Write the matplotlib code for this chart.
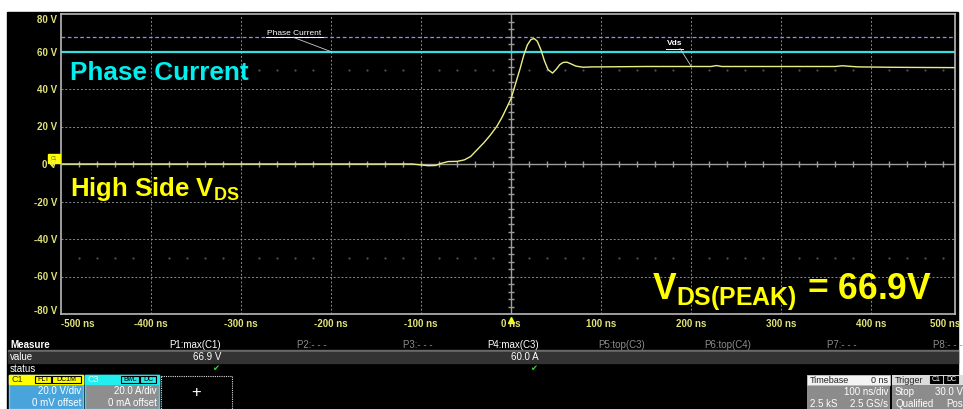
import matplotlib
matplotlib.use("Agg")
import matplotlib.pyplot as plt
from matplotlib.patches import Rectangle
import numpy as np

plt.rcParams['font.family'] = ['Liberation Sans', 'DejaVu Sans']
plt.rcParams['mathtext.fontset'] = 'custom'
plt.rcParams['mathtext.rm'] = 'Liberation Sans'
plt.rcParams['mathtext.bf'] = 'Liberation Sans:bold'

# ---- data ----
t_ns = [-500, -110, -100, -92, -84, -78, -70, -60, -52, -45, -38, -30, -23, -16,
        -10, -5, 0, 5, 10, 14, 18, 22, 25.6, 29, 33, 37, 41, 46, 50, 54, 58, 62,
        66, 72, 80, 90, 100, 150, 200, 222, 228, 234, 240, 300, 360, 368, 376,
        385, 420, 450, 493]
vds_v = [0, 0, -0.5, -0.9, -0.8, 0.3, 1.3, 1.4, 2.2, 4.0, 7.5, 11.5, 15.5, 20,
         25, 30, 35, 43, 51, 58, 63.5, 66.4, 66.9, 65.5, 61, 55, 50.3, 48.5, 50.5,
         53, 54.2, 54.3, 53.5, 52.2, 51.6, 51.8, 51.8, 52, 52, 52, 52.5, 52, 52,
         52, 52, 52.4, 52.1, 51.8, 51.6, 51.5, 51.4]
phase_current_a = 60.0
vds_peak = 66.9

xticks = [-500, -400, -300, -200, -100, 0, 100, 200, 300, 400, 500]
yticks = [80, 60, 40, 20, 0, -20, -40, -60, -80]

measure_names = ["P1:max(C1)", "P2:- - -", "P3:- - -", "P4:max(C3)",
                 "P5:top(C3)", "P6:top(C4)", "P7:- - -", "P8:- - -"]
measure_values = ["66.9 V", "", "", "60.0 A", "", "", "", ""]
measure_active = [True, False, False, True, False, False, False, False]

W, H = 963, 409
fig = plt.figure(figsize=(W / 100, H / 100), dpi=100, facecolor='white')

# black screen behind everything
back = fig.add_axes([0, 0, 1, 1])
back.set_xlim(0, W)
back.set_ylim(H, 0)
back.axis('off')
back.add_patch(Rectangle((7, 12), 951, 397, color='black'))

# ---- waveform grid ----
x0, x1, y0, y1 = 61, 955, 14, 314
ax = fig.add_axes([x0 / W, (H - y1) / H, (x1 - x0) / W, (y1 - y0) / H])
ax.set_facecolor('black')
ax.set_xlim(-500, 493)
ax.set_ylim(-80, 80)
ax.set_xticks([])
ax.set_yticks([])
for s in ax.spines.values():
    s.set_color('#b8b8b8')
    s.set_linewidth(1.2)

grid_kw = dict(color='#8a8a8a', lw=0.7, ls=(0, (2, 2)))
for v in range(-60, 80, 20):
    if v != 0:
        ax.axhline(v, **grid_kw)
for t in range(-400, 500, 100):
    if t != 0:
        ax.axvline(t, **grid_kw)
ax.axhline(0, color='#9c9c9c', lw=1.0)
ax.axvline(0, color='#9c9c9c', lw=1.0)
mt = np.arange(-480, 493, 20)
ax.plot(mt, np.zeros_like(mt), ls='none', marker='|', ms=4, color='#9c9c9c', mew=1)
mv = np.arange(-76, 80, 4)
ax.plot(np.zeros_like(mv), mv, ls='none', marker='_', ms=4, color='#9c9c9c', mew=1)
dots = mt[mt % 100 != 0]
for v in (50, -50):
    ax.plot(dots, np.full_like(dots, v), ls='none', marker='.', ms=0.8,
            color='#777777')

# ---- traces ----
ax.axhline(vds_peak + 0.6, color='#8c8cff', lw=0.9, ls=(0, (3, 2)))
ax.axhline(phase_current_a, color='#35e0e0', lw=1.6)
ax.plot(t_ns, vds_v, color='#eeee88', lw=1.0)

# overlay canvas in pixel coordinates for text and chrome
bg = fig.add_axes([0, 0, 1, 1])
bg.set_xlim(0, W)
bg.set_ylim(H, 0)
bg.axis('off')
bg.patch.set_alpha(0)

# small trace labels with leaders
bg.text(267, 33.5, "Phase Current", color='white', fontsize=6, va='center')
bg.plot([266, 323], [37.2, 37.2], color='white', lw=0.7)
bg.plot([293, 332], [37.2, 52], color='#cccccc', lw=0.6)
bg.text(667, 43.5, "Vds", color='white', fontsize=6, fontweight='bold', va='center')
bg.plot([666, 683], [48.5, 48.5], color='white', lw=0.7)
bg.plot([680, 691], [48.5, 66], color='#cccccc', lw=0.6)

# big overlay labels
bg.text(70, 73, "Phase Current", color='#00f0f0', fontsize=18.8,
        fontweight='bold', va='center')
bg.text(70, 189, r"High Side V$_{\mathbf{DS}}$", color='#ffff00', fontsize=18.5,
        fontweight='bold', va='center')
bg.text(652, 292, r"V$_{\mathbf{DS(PEAK)}}$ = 66.9V", color='#ffff00',
        fontsize=25.6, fontweight='bold', va='center')

# axis labels
lab_c = '#e2e27a'
for v in yticks:
    y = y0 + (80 - v) / 160 * (y1 - y0)
    y = min(max(y, 19), 310)
    bg.text(57, y + 1, f"{v} V", color=lab_c, fontsize=7, fontweight='bold',
            ha='right', va='center')
for t in xticks:
    x = x0 + (t + 500) * 0.9
    ha = 'center'
    if t == -500:
        ha = 'left'
    if t == 500:
        ha, x = 'right', 960
    bg.text(x, 324, f"{t} ns", color=lab_c, fontsize=7, fontweight='bold',
            ha=ha, va='center')
bg.plot([511], [319.5], marker='^', ms=4, color='#ffff00', ls='none')

# C1 ground marker
bg.add_patch(Rectangle((48, 154), 12, 9, color='#ffff00'))
bg.plot([50, 52, 54], [163, 166, 163], color='#ffff00', lw=1)
bg.text(54, 158.5, "C1", color='#555500', fontsize=3.5, ha='center', va='center')

# ---- measure table ----
bg.text(10, 345, "Measure", color='white', fontsize=7, fontweight='bold', va='center')
bg.add_patch(Rectangle((8, 350), 950, 2, color='#6a6a6a'))
bg.add_patch(Rectangle((8, 352), 950, 11, color='#333333'))
bg.text(10, 357.5, "value", color='white', fontsize=7, va='center')
bg.text(10, 368.5, "status", color='white', fontsize=7, va='center')
col_right = [221, 327, 433, 539, 645, 751, 857, 963]
for i, name in enumerate(measure_names):
    c = 'white' if measure_active[i] else '#8c8c8c'
    bg.text(col_right[i], 345, name, color=c, fontsize=7, ha='right', va='center')
    if measure_values[i]:
        bg.text(col_right[i], 357.5, measure_values[i], color='white', fontsize=7,
                ha='right', va='center')
        bg.text(col_right[i] - 5, 368.5, "\u2714", color='#33dd33', fontsize=6,
                ha='center', va='center', family='DejaVu Sans')

# ---- channel boxes ----
def tag(x, y, s, fc='none', ec='black', tc='black', w=None):
    w = w or len(s) * 4.3 + 3
    bg.add_patch(Rectangle((x, y), w, 7, fc=fc, ec=ec, lw=0.8))
    bg.text(x + w / 2, y + 3.7, s, color=tc, fontsize=5, ha='center', va='center')

bg.add_patch(Rectangle((9, 375), 74, 34, fc='#4aa4dc', ec='#6cc4f4', lw=1))
bg.add_patch(Rectangle((9, 375), 74, 9, color='#ffff00'))
bg.text(12, 380, "C1", color='#333300', fontsize=6.5, va='center')
tag(35, 376, "FLT", w=16)
tag(52, 376, "DC1M", w=29)
bg.text(81, 391, "20.0 V/div", color='white', fontsize=7, ha='right', va='center')
bg.text(81, 403, "0 mV offset", color='white', fontsize=7, ha='right', va='center')

bg.add_patch(Rectangle((85, 375), 74, 34, fc='#8e8e8e', ec='#3cd8f0', lw=1))
bg.add_patch(Rectangle((85, 375), 74, 9, color='#22eeee'))
bg.text(88, 380, "C3", color='#dffcfc', fontsize=6.5, va='center')
tag(121, 376, "BwL", w=18)
tag(140, 376, "DC", w=16)
bg.text(157, 391, "20.0 A/div", color='white', fontsize=7, ha='right', va='center')
bg.text(157, 403, "0 mA offset", color='white', fontsize=7, ha='right', va='center')

bg.add_patch(Rectangle((161, 376), 71, 33, fc='black', ec='#dddddd', lw=0.8, ls=(0, (1, 1))))
bg.text(196, 393, "+", color='white', fontsize=12, ha='center', va='center')

# timebase / trigger
bg.add_patch(Rectangle((807, 375), 83, 34, fc='#8c8c8c'))
bg.add_patch(Rectangle((807, 375), 83, 10, fc='#f4f4f4', ec='#bbbbbb', lw=0.6))
bg.text(810, 380.5, "Timebase", color='#222222', fontsize=6.5, va='center')
bg.text(888, 380.5, "0 ns", color='#222222', fontsize=6.5, ha='right', va='center')
bg.text(888, 392, "100 ns/div", color='white', fontsize=7, ha='right', va='center')
bg.text(810, 404, "2.5 kS", color='white', fontsize=7, va='center')
bg.text(888, 404, "2.5 GS/s", color='white', fontsize=7, ha='right', va='center')

bg.add_patch(Rectangle((892, 375), 71, 34, fc='#8c8c8c'))
bg.add_patch(Rectangle((892, 375), 71, 10, fc='#dcdcdc'))
bg.text(895, 380.5, "Trigger", color='#222222', fontsize=6.5, va='center')
tag(930, 376, "C1", fc='black', tc='white', w=12)
tag(944, 376, "DC", fc='black', tc='white', w=14)
bg.text(895, 392, "Stop", color='white', fontsize=7, va='center')
bg.text(963, 392, "30.0 V", color='white', fontsize=7, ha='right', va='center')
bg.text(895, 404, "Qualified", color='white', fontsize=7, va='center')
bg.text(963, 404, "Pos", color='white', fontsize=7, ha='right', va='center')

fig.savefig("out.png", dpi=100, facecolor='white')
